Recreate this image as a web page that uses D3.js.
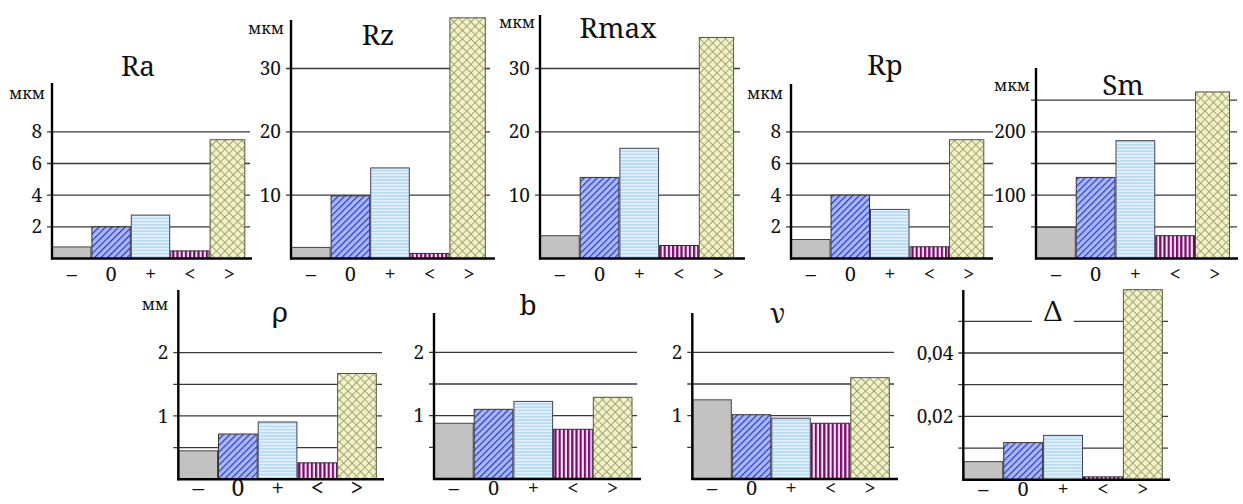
<!DOCTYPE html>
<html>
<head>
<meta charset="utf-8">
<script src="https://cdn.jsdelivr.net/npm/d3@7"></script>
<style>
  html, body { margin: 0; padding: 0; background: #fff; }
  svg { display: block; }
</style>
</head>
<body>
<svg id="chart" width="1243" height="504"></svg>
<script>
// ---------- data ----------
const categories = ["–", "0", "+", "<", ">"];

const raValues    = [0.73, 2.0, 2.74, 0.48, 7.5];
const rzValues    = [1.75, 9.9, 14.3, 0.8, 38.0];
const rmaxValues  = [3.6, 12.8, 17.4, 2.05, 34.9];
const rpValues    = [1.2, 4.0, 3.1, 0.74, 7.5];
const smValues    = [49, 128, 186, 36, 263];
const rhoValues   = [0.45, 0.715, 0.905, 0.26, 1.67];
const bValues     = [0.88, 1.1, 1.225, 0.785, 1.29];
const nuValues    = [1.25, 1.015, 0.96, 0.88, 1.6];
const deltaValues = [0.0057, 0.0117, 0.014, 0.0009, 0.06];

const raTicks = [2, 4, 6, 8];
const rzTicks = [10, 20, 30];
const rmaxTicks = [10, 20, 30];
const rpTicks = [2, 4, 6, 8];
const smTicks = [100, 200];
const rhoTicks = [1, 2];
const bTicks = [1, 2];
const nuTicks = [1, 2];
const deltaTicks = [0.02, 0.04];

const raGrid = [2, 4, 6, 8];
const rzGrid = [10, 20, 30];
const rmaxGrid = [10, 20, 30];
const rpGrid = [2, 4, 6, 8];
const smGrid = [50, 100, 150, 200, 250];
const rhoGrid = [0.5, 1, 1.5, 2];
const bGrid = [0.5, 1, 1.5, 2];
const nuGrid = [0.5, 1, 1.5, 2];
const deltaGrid = [0.01, 0.02, 0.03, 0.04, 0.05];

// ---------- layout ----------
const FONT = '"Noto Serif", "DejaVu Serif", serif';
const STEP_PX = 31.67;
const panels = [
  {title: "Ra", values: raValues, ticks: raTicks, grid: raGrid, step: 2,
   ax: 52, base: 258.5, top: 83, gridEnd: 250, baseEnd: 252, bw: 39.4, lastW: 35.7,
   unit: "мкм", ux: 27, uy: 99, tx: 138, ty: 76, labY: 281, labSize: 20},
  {title: "Rz", values: rzValues, ticks: rzTicks, grid: rzGrid, step: 5,
   ax: 291, base: 258.5, top: 20, gridEnd: 490, baseEnd: 495, bw: 39.6, lastW: 36.4,
   unit: "мкм", ux: 266, uy: 34, tx: 378, ty: 45, labY: 281, labSize: 20},
  {title: "Rmax", values: rmaxValues, ticks: rmaxTicks, grid: rmaxGrid, step: 5,
   ax: 540, base: 258.5, top: 15, gridEnd: 740, baseEnd: 745, bw: 39.7, lastW: 35.3,
   unit: "мкм", ux: 517, uy: 28, tx: 618, ty: 38, labY: 281, labSize: 20},
  {title: "Rp", values: rpValues, ticks: rpTicks, grid: rpGrid, step: 2,
   ax: 791, base: 258.5, top: 84, gridEnd: 993, baseEnd: 993, bw: 39.5, lastW: 35.3,
   unit: "мкм", ux: 765, uy: 99, tx: 885, ty: 75, labY: 281, labSize: 20},
  {title: "Sm", values: smValues, ticks: smTicks, grid: smGrid, step: 50,
   ax: 1036, base: 258.5, top: 68, gridEnd: 1237, baseEnd: 1238, bw: 39.75, lastW: 35,
   unit: "мкм", ux: 1012, uy: 91, tx: 1123, ty: 95, labY: 281, labSize: 20},
  {title: "ρ", values: rhoValues, ticks: rhoTicks, grid: rhoGrid, step: 0.5,
   ax: 178.3, base: 479.3, top: 290, gridEnd: 382, baseEnd: 384, bw: 39.7, lastW: 39.7,
   unit: "мм", ux: 155, uy: 310, tx: 280, ty: 322, labY: 496, labSize: 23},
  {title: "b", values: bValues, ticks: bTicks, grid: bGrid, step: 0.5,
   ax: 434, base: 479, top: 313, gridEnd: 637, baseEnd: 641, bw: 39.7, lastW: 39.7,
   unit: null, tx: 528, ty: 315, labY: 495, labSize: 20},
  {title: "ν", values: nuValues, ticks: nuTicks, grid: nuGrid, step: 0.5,
   ax: 692.3, base: 479, top: 313, gridEnd: 894, baseEnd: 898, bw: 39.5, lastW: 39.5,
   unit: null, tx: 778, ty: 323, labY: 495, labSize: 20},
  {title: "Δ", values: deltaValues, ticks: deltaTicks, grid: deltaGrid, step: 0.01,
   ax: 963.3, base: 479.7, top: 290, gridEnd: 1168, baseEnd: 1170, bw: 39.9, lastW: 39.9,
   unit: null, tx: 1053, ty: 321, labY: 496, labSize: 20, decimal: true, titleBg: true}
];

const svg = d3.select("#chart");
const defs = svg.append("defs");

// ---------- fill patterns ----------
const pDiag = defs.append("pattern").attr("id", "pDiag")
  .attr("patternUnits", "userSpaceOnUse").attr("width", 4.6).attr("height", 4.6)
  .attr("patternTransform", "rotate(45)");
pDiag.append("rect").attr("width", 4.6).attr("height", 4.6).attr("fill", "#a9b8f6");
pDiag.append("line").attr("x1", 0.6).attr("y1", 0).attr("x2", 0.6).attr("y2", 4.6)
  .attr("stroke", "#2a3ac8").attr("stroke-width", 1.2);

const pHor = defs.append("pattern").attr("id", "pHor")
  .attr("patternUnits", "userSpaceOnUse").attr("width", 4).attr("height", 3.2);
pHor.append("rect").attr("width", 4).attr("height", 3.2).attr("fill", "#e4f2fc");
pHor.append("rect").attr("y", 0).attr("width", 4).attr("height", 1.7).attr("fill", "#b8daf4");

const pVer = defs.append("pattern").attr("id", "pVer")
  .attr("patternUnits", "userSpaceOnUse").attr("width", 4.2).attr("height", 4);
pVer.append("rect").attr("width", 4.2).attr("height", 4).attr("fill", "#f4eaf4");
pVer.append("rect").attr("x", 0).attr("width", 2.2).attr("height", 4).attr("fill", "#7a0a6e");

const pCross = defs.append("pattern").attr("id", "pCross")
  .attr("patternUnits", "userSpaceOnUse").attr("width", 6).attr("height", 6)
  .attr("patternTransform", "rotate(45)");
pCross.append("rect").attr("width", 6).attr("height", 6).attr("fill", "#f2f2c8");
pCross.append("line").attr("x1", 0.5).attr("y1", 0).attr("x2", 0.5).attr("y2", 6)
  .attr("stroke", "#9c9c6c").attr("stroke-width", 0.9);
pCross.append("line").attr("x1", 0).attr("y1", 0.5).attr("x2", 6).attr("y2", 0.5)
  .attr("stroke", "#9c9c6c").attr("stroke-width", 0.9);

const fills = ["#c2c2c2", "url(#pDiag)", "url(#pHor)", "url(#pVer)", "url(#pCross)"];
const strokes = ["#444", "#333", "#445", "#402040", "#555540"];

const commaFmt = v => d3.format(".2f")(v).replace(".", ",");

// ---------- panels ----------
panels.forEach(p => {
  const g = svg.append("g");
  const yMax = (p.base - p.top) / STEP_PX * p.step;
  const y = d3.scaleLinear().domain([0, yMax]).range([p.base, p.top]);
  const x = d3.scaleBand().domain(categories)
    .range([p.ax, p.ax + categories.length * p.bw]).padding(0);

  g.selectAll("line.grid").data(p.grid).join("line")
    .attr("class", "grid")
    .attr("x1", p.ax - 5).attr("x2", p.gridEnd)
    .attr("y1", d => y(d)).attr("y2", d => y(d))
    .attr("stroke", "#3a3a3a").attr("stroke-width", 1.3);

  g.selectAll("rect.bar").data(p.values).join("rect")
    .attr("class", "bar")
    .attr("x", (d, i) => x(categories[i]) + 0.5)
    .attr("y", d => y(d))
    .attr("width", (d, i) => (i === categories.length - 1 ? p.lastW : x.bandwidth()) - 1)
    .attr("height", d => y(0) - y(d))
    .attr("fill", (d, i) => fills[i])
    .attr("stroke", (d, i) => strokes[i])
    .attr("stroke-width", 1);

  const yAxis = d3.axisLeft(y).tickValues(p.ticks).tickSize(0).tickPadding(10)
    .tickFormat(p.decimal ? commaFmt : d3.format("d"));
  const ya = g.append("g").attr("transform", `translate(${p.ax},0)`).call(yAxis);
  ya.select(".domain").remove();
  ya.selectAll("text").attr("fill", "#111").style("font-family", FONT).style("font-size", "19px");

  const xAxis = d3.axisBottom(x).tickSize(0).tickPadding(0);
  const xa = g.append("g").attr("transform", `translate(0,${p.labY})`).call(xAxis);
  xa.select(".domain").remove();
  xa.selectAll("text").attr("dy", 0).attr("y", 0).attr("fill", "#111")
    .style("font-family", FONT).style("font-size", p.labSize + "px");

  g.append("line").attr("x1", p.ax).attr("x2", p.ax).attr("y1", p.top).attr("y2", p.base + 1)
    .attr("stroke", "#000").attr("stroke-width", 2.4);
  g.append("line").attr("x1", p.ax - 1).attr("x2", p.baseEnd).attr("y1", p.base).attr("y2", p.base)
    .attr("stroke", "#000").attr("stroke-width", 2.4);

  if (p.titleBg) {
    g.append("rect").attr("x", p.tx - 21).attr("y", p.ty - 24).attr("width", 42).attr("height", 30)
      .attr("fill", "#fff");
  }
  g.append("text").attr("x", p.tx).attr("y", p.ty).attr("text-anchor", "middle")
    .attr("fill", "#111").style("font-family", FONT).style("font-size", "28px").text(p.title);

  if (p.unit) {
    g.append("text").attr("x", p.ux).attr("y", p.uy).attr("text-anchor", "middle")
      .attr("fill", "#111").style("font-family", FONT).style("font-size", "16px").text(p.unit);
  }
});
</script>
</body>
</html>
